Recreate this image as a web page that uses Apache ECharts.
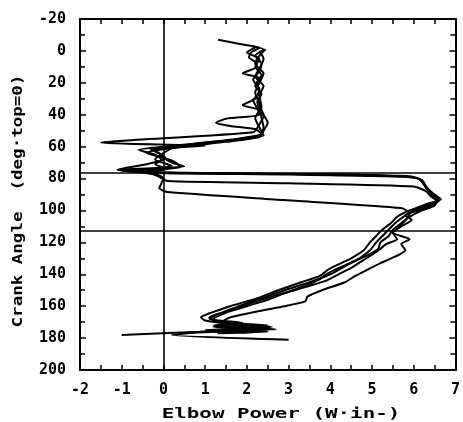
<!DOCTYPE html>
<html>
<head>
<meta charset="utf-8">
<script src="https://cdn.jsdelivr.net/npm/echarts@6/dist/echarts.min.js"></script>
<style>html,body{margin:0;padding:0;background:#fff;}#chart{width:463px;height:422px;}</style>
</head>
<body>
<div id="chart"></div>
<script>
// Data: [crank angle (deg), elbow power] per trial
var trial1 = [[-7,1.31],[-4,1.9],[-2,2.3],[1,2.1],[4,2.05],[7,2.2],[10,2.25],[14,1.9],[17,2.3],[22,2.2],[27,2.35],[32,2.25],[36,2.3],[41,2.4],[46,2.3],[51,2.15],[57.5,-1.5],[59.5,1.0],[61.5,-0.3],[64,-0.1],[67,0.0],[70,0.2],[72.5,0.5],[74.5,-1.1],[76.5,-0.2],[77.5,3.0],[79,5.9],[81,6.2],[85,6.3],[89,6.45],[93,6.65],[96,6.3],[100,5.9],[104,5.6],[108,5.45],[112,5.25],[116,5.1],[120,4.95],[125,4.8],[130,4.5],[133,4.26],[137,3.95],[141,3.75],[145,3.3],[150,2.75],[155,2.25],[160,1.6],[164,1.15],[167,0.9],[169,1.0],[171,1.6],[172.5,2.4],[173.8,2.2],[176,0.86],[178,-1.0]];
var trial2 = [[-3,2.1],[-1,2.4],[3,2.2],[8,2.35],[13,2.3],[18,2.15],[24,2.3],[30,2.2],[34,1.9],[37,2.3],[42,2.35],[48,2.4],[53,2.3],[56,1.6],[59,0.4],[62,-0.6],[65,-0.2],[68,-0.05],[71,-0.4],[74.5,-1.1],[76,-0.5],[77,2.5],[78.5,5.9],[80.5,6.15],[84,6.25],[88,6.35],[92,6.5],[94,6.6],[97,6.3],[100,6.0],[104,5.75],[108,5.55],[112,5.4],[116,5.25],[120,5.1],[125,4.95],[130,4.7],[135,4.35],[140,4.0],[145,3.5],[150,2.9],[155,2.35],[160,1.8],[164,1.4],[167,1.1],[170,1.3],[172,2.5],[173.5,1.4],[175,2.3],[176.5,0.8],[178,0.2],[181,3.0]];
var trial3 = [[-2,2.2],[1,2.0],[5,2.3],[10,2.2],[15,2.35],[20,2.25],[26,2.3],[31,2.15],[36,2.25],[40,2.3],[42.5,1.5],[45,1.26],[47,1.6],[49,2.2],[52,2.35],[55,1.8],[58,0.8],[61,0.0],[64,-0.4],[67,0.0],[70,0.3],[73,0.4],[75,-0.8],[76.5,0.5],[77.5,4.5],[79.5,6.05],[82,6.2],[86,6.3],[90,6.45],[93.5,6.6],[96,6.5],[100,6.1],[103,5.8],[106,5.95],[110,5.7],[114,5.5],[118,5.6],[121,5.35],[126,5.1],[131,4.8],[136,4.5],[140,4.2],[144,3.9],[148,3.4],[152,2.9],[156,2.5],[160,2.0],[164,1.5],[168,1.2],[171,1.5],[173,2.6],[174.5,1.5],[176,2.5],[177,1.3]];
var trial4 = [[-1,2.45],[3,2.3],[8,2.2],[14,2.4],[20,2.3],[26,2.2],[33,2.3],[40,2.4],[45,2.5],[50,2.4],[54,2.3],[57,1.5],[60,0.5],[63,-0.2],[67,0.05],[71,-0.2],[74,0.1],[76,-0.5],[78,-0.1],[80,0.0],[83,-0.05],[86,-0.1],[88.5,0.1],[93.5,2.9],[98.5,5.7],[102,5.9],[106,5.8],[110,5.65],[114,5.5],[118,5.9],[121,5.7],[125,5.8],[129,5.55],[133,5.2],[137,4.9],[141,4.6],[145,4.35],[150,3.8],[154,3.45],[157,3.4],[160,2.9],[163,2.3],[167,1.6],[170,1.4],[172,2.0],[173,1.2],[174.5,2.7],[176,1.6]];
var trial5 = [[0,2.3],[5,2.4],[11,2.3],[16,2.2],[22,2.4],[28,2.3],[35,2.35],[42,2.2],[48,2.3],[53,2.4],[56,1.6],[60,0.3],[64,0.0],[68,-0.2],[72,0.2],[75,-0.7],[76.5,-0.3],[79,-0.1],[81.5,0.1],[83,3.0],[85,6.0],[88,6.3],[91,6.4],[94,6.55],[97,6.5],[100,6.2],[104,5.9],[108,5.7],[112,5.5],[116,5.4],[120,5.2],[124,5.15],[128,4.9],[132,4.55],[136,4.2],[140,3.9],[143,3.75],[146,3.5],[150,3.1],[154,2.6],[158,2.1],[162,1.7],[165,1.3],[168,1.1],[170.5,1.9],[172,1.2],[173.5,2.2],[175,1.0],[176.5,2.0]];
var trials = [trial1, trial2, trial3, trial4, trial5];
var verticalRefs = [0];
var horizontalRefs = [76.5, 113];
var xTitle = 'Elbow Power (W·in-)';
var yTitle = 'Crank Angle  (deg·top=0)';

var FONT = '"DejaVu Sans Mono", "Liberation Mono", monospace';
var chart = echarts.init(document.getElementById('chart'), null, {renderer: 'canvas'});

function xAx(pos, show) {
  return {
    type: 'value', position: pos, min: -2, max: 7, interval: 1,
    axisLine: {show: true, onZero: false, lineStyle: {color: '#000', width: 2}},
    axisTick: {show: true, inside: true, length: 5, lineStyle: {color: '#000', width: 1.5}},
    minorTick: {show: true, splitNumber: 2, length: 5, lineStyle: {color: '#000', width: 1.5}},
    axisLabel: {show: show, color: '#000', fontFamily: FONT, fontWeight: 'bold', fontSize: 15, margin: 13},
    splitLine: {show: false}
  };
}
function yAx(pos, show) {
  return {
    type: 'value', position: pos, min: -20, max: 200, interval: 20, inverse: true,
    axisLine: {show: true, onZero: false, lineStyle: {color: '#000', width: 2}},
    axisTick: {show: true, inside: true, length: 6, lineStyle: {color: '#000', width: 1.5}},
    minorTick: {show: true, splitNumber: 2, length: 5, lineStyle: {color: '#000', width: 1.5}},
    axisLabel: {show: show, color: '#000', fontFamily: FONT, fontWeight: 'bold', fontSize: 15, margin: 14},
    splitLine: {show: false}
  };
}

var markData = [];
verticalRefs.forEach(function (v) { markData.push({xAxis: v}); });
horizontalRefs.forEach(function (v) { markData.push({yAxis: v}); });

var series = trials.map(function (t, i) {
  var s = {
    type: 'line', xAxisIndex: 0, yAxisIndex: 0,
    data: t.map(function (p) { return [p[1], p[0]]; }),
    showSymbol: false, symbol: 'none', smooth: 0.2,
    lineStyle: {color: '#000', width: 2},
    silent: true
  };
  if (i === 0) {
    s.markLine = {
      silent: true, symbol: ['none', 'none'], label: {show: false},
      lineStyle: {color: '#000', width: 1.6, type: 'solid'},
      data: markData
    };
  }
  return s;
});

chart.setOption({
  animation: false,
  backgroundColor: '#fff',
  grid: {left: 80, right: 4, top: 19, bottom: 52, containLabel: false},
  xAxis: [xAx('bottom', true), xAx('top', false)],
  yAxis: [yAx('left', true), yAx('right', false)],
  series: series,
  graphic: [
    {type: 'text', x: 281, y: 414, scaleX: 1.49, scaleY: 1,
     style: {text: xTitle, font: 'bold 14px ' + FONT, fill: '#000', align: 'center', verticalAlign: 'middle'}},
    {type: 'text', x: 18, y: 201, rotation: Math.PI / 2, scaleX: 1.25, scaleY: 1,
     style: {text: yTitle, font: 'bold 14px ' + FONT, fill: '#000', align: 'center', verticalAlign: 'middle'}}
  ]
});
</script>
</body>
</html>
